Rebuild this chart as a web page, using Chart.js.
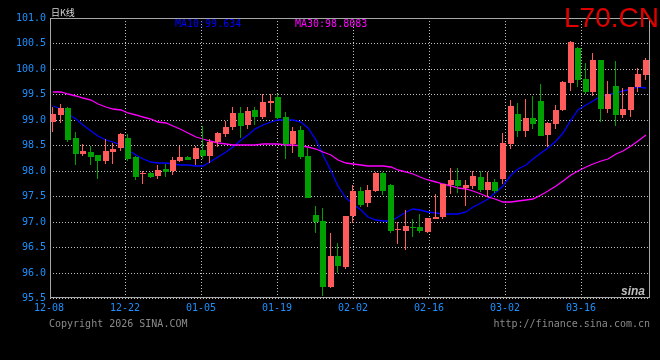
<!DOCTYPE html>
<html>
<head>
<meta charset="utf-8">
<script src="https://cdn.jsdelivr.net/npm/chart.js@4.4.1/dist/chart.umd.min.js"></script>
<style>
  html, body { margin: 0; padding: 0; background: #000; overflow: hidden; }
  canvas { display: block; }
</style>
</head>
<body>
<canvas id="kline" width="660" height="360"></canvas>
<script>
// daily K line, L70.CN, 80 sessions from 12-08
const dateLabels = ["12-08", "12-22", "01-05", "01-19", "02-02", "02-16", "03-02", "03-16"];
const priceTicks = [95.5, 96.0, 96.5, 97.0, 97.5, 98.0, 98.5, 99.0, 99.5, 100.0, 100.5, 101.0];

const opens = [
  98.96, 99.10, 99.24, 98.65, 98.33, 98.37, 98.30, 98.19, 98.37, 98.44,
  98.64, 98.26, 97.93, 97.96, 97.90, 98.03, 98.00, 98.20, 98.27, 98.23,
  98.41, 98.29, 98.57, 98.72, 98.85, 99.14, 98.90, 99.19, 99.06, 99.34,
  99.45, 99.06, 98.53, 98.80, 98.29, 97.13, 97.02, 95.72, 96.33, 96.10,
  97.12, 97.60, 97.37, 97.60, 97.96, 97.72, 96.83, 96.82, 96.90, 96.90,
  96.80, 97.06, 97.10, 97.72, 97.82, 97.66, 97.70, 97.88, 97.62, 97.78,
  97.83, 98.53, 99.12, 98.78, 99.04, 99.36, 98.70, 98.91, 99.19, 99.73,
  100.42, 99.80, 99.55, 100.18, 99.21, 99.66, 99.10, 99.19, 99.64, 99.88
];
const highs = [
  99.26, 99.31, 99.25, 98.76, 98.53, 98.49, 98.31, 98.62, 98.54, 98.74,
  98.72, 98.28, 98.00, 97.97, 98.11, 98.13, 98.27, 98.49, 98.28, 98.49,
  98.87, 98.62, 98.76, 98.98, 99.25, 99.25, 99.25, 99.25, 99.50, 99.50,
  99.50, 99.15, 98.85, 98.88, 98.44, 97.31, 97.27, 96.77, 96.59, 97.11,
  97.72, 97.68, 97.72, 97.97, 97.98, 97.74, 97.00, 97.23, 97.05, 97.15,
  97.07, 97.54, 97.74, 98.06, 98.06, 97.82, 97.99, 97.99, 97.98, 97.84,
  98.75, 99.38, 99.33, 99.41, 99.46, 99.70, 98.96, 99.29, 99.77, 100.55,
  100.44, 100.11, 100.31, 100.18, 99.76, 100.16, 99.62, 99.65, 100.01, 100.21
];
const lows = [
  98.77, 98.93, 98.57, 98.11, 98.28, 98.11, 97.84, 98.14, 98.14, 98.39,
  98.19, 97.82, 97.73, 97.85, 97.84, 97.88, 97.92, 98.17, 98.21, 98.11,
  98.24, 98.15, 98.47, 98.67, 98.80, 98.65, 98.82, 98.90, 99.02, 99.16,
  99.01, 98.23, 98.35, 98.24, 97.46, 96.78, 95.53, 95.70, 95.99, 96.07,
  96.97, 97.28, 97.28, 97.58, 97.53, 96.77, 96.56, 96.44, 96.70, 96.77,
  96.77, 97.05, 97.05, 97.55, 97.57, 97.31, 97.64, 97.59, 97.49, 97.56,
  97.74, 98.42, 98.67, 98.67, 98.82, 98.68, 98.47, 98.82, 99.18, 99.57,
  99.65, 99.50, 99.46, 98.95, 99.13, 98.87, 99.03, 99.06, 99.55, 99.78
];
const closes = [
  99.12, 99.24, 98.60, 98.33, 98.39, 98.26, 98.20, 98.39, 98.43, 98.72,
  98.24, 97.88, 97.94, 97.88, 98.01, 97.97, 98.21, 98.27, 98.22, 98.45,
  98.29, 98.57, 98.75, 98.86, 99.14, 98.88, 99.17, 99.06, 99.35, 99.37,
  99.04, 98.53, 98.78, 98.26, 97.47, 96.99, 95.72, 96.33, 96.12, 97.11,
  97.60, 97.33, 97.62, 97.96, 97.60, 96.82, 96.85, 96.91, 96.88, 96.82,
  97.07, 97.09, 97.74, 97.82, 97.70, 97.72, 97.90, 97.62, 97.78, 97.60,
  98.55, 99.27, 98.78, 99.04, 98.91, 98.68, 98.93, 99.19, 99.75, 100.52,
  99.78, 99.55, 100.18, 99.21, 99.50, 99.10, 99.21, 99.65, 99.90, 100.18
];

const ma10 = [
  99.28, 99.22, 99.12, 99.01, 98.90, 98.79, 98.68, 98.61, 98.56, 98.50,
  98.40, 98.30, 98.23, 98.18, 98.16, 98.15, 98.14, 98.12, 98.11, 98.10,
  98.10, 98.18, 98.27, 98.37, 98.47, 98.61, 98.71, 98.82, 98.89, 98.96,
  99.00, 99.00, 99.00, 98.95, 98.84, 98.60, 98.31, 98.00, 97.70, 97.47,
  97.35, 97.22, 97.09, 97.03, 97.01, 97.02, 97.09, 97.19, 97.24, 97.22,
  97.19, 97.16, 97.15, 97.15, 97.15, 97.19, 97.29, 97.36, 97.44, 97.56,
  97.70, 97.92, 98.03, 98.12, 98.23, 98.34, 98.44, 98.59, 98.74, 99.00,
  99.19, 99.30, 99.37, 99.46, 99.49, 99.52, 99.57, 99.61, 99.64, 99.634
];
const ma30 = [
  99.54, 99.54, 99.51, 99.47, 99.42, 99.38, 99.31, 99.26, 99.22, 99.19,
  99.14, 99.09, 99.05, 99.02, 98.96, 98.93, 98.88, 98.81, 98.74, 98.67,
  98.63, 98.58, 98.54, 98.53, 98.51, 98.50, 98.50, 98.50, 98.52, 98.52,
  98.52, 98.51, 98.50, 98.48, 98.47, 98.42, 98.36, 98.30, 98.22, 98.16,
  98.13, 98.11, 98.09, 98.09, 98.09, 98.08, 98.02, 97.97, 97.93, 97.88,
  97.82, 97.77, 97.73, 97.70, 97.67, 97.64, 97.60, 97.54, 97.49, 97.44,
  97.39, 97.39, 97.41, 97.43, 97.45, 97.52, 97.60, 97.70, 97.80, 97.92,
  98.00, 98.07, 98.13, 98.19, 98.24, 98.33, 98.39, 98.48, 98.58, 98.70
];
const lastMa10 = "99.634";
const lastMa30 = "98.8083";

(() => {
  const UP = "#ff5b5b";
  const DOWN = "#00a000";
  const GRID = "#c4c4c4";
  const AXIS_TEXT = "#1e90ff";
  const MONO = '"DejaVu Sans Mono", "Liberation Mono", monospace';

  // x axis in session units: 7.5px per session, date grid every 76px
  const X_MIN = -0.4, X_MAX = 79.6;
  const SLOT_PX = 7.5, GRID_PX = 76;
  const gridValue = (k) => X_MIN + (k * GRID_PX - 0.75) / SLOT_PX;

  const idx = closes.map((_, i) => i);
  const colorOf = (i) => (closes[i] >= opens[i] ? UP : DOWN);
  const colors = idx.map(colorOf);

  const pagePaint = {
    id: "pagePaint",
    beforeDraw(chart) {
      const ctx = chart.ctx;
      ctx.save();
      ctx.fillStyle = "#000";
      ctx.fillRect(0, 0, chart.width, chart.height);
      ctx.restore();
    },
    afterDraw(chart) {
      const ctx = chart.ctx;
      const a = chart.chartArea;
      ctx.save();
      // frame
      ctx.strokeStyle = "#a8a8a8";
      ctx.lineWidth = 1;
      ctx.strokeRect(a.left + 0.5, a.top + 0.5, a.right - a.left - 1, a.bottom - a.top - 1);

      ctx.textBaseline = "alphabetic";
      ctx.textAlign = "left";
      ctx.fillStyle = "#d8d8d8";
      ctx.font = '9px "Noto Sans CJK SC"';
      ctx.fillText("日K线", 51, 16);

      ctx.font = "10px " + MONO;
      ctx.fillStyle = "#0000ff";
      ctx.fillText("MA10:" + lastMa10, 175, 27);
      ctx.fillStyle = "#ff00ff";
      ctx.fillText("MA30:" + lastMa30, 295, 27);

      ctx.fillStyle = "#e00000";
      ctx.font = '28px "Liberation Sans", Arial, sans-serif';
      ctx.fillText("L70.CN", 564, 27);

      ctx.font = "10px " + MONO;
      ctx.fillStyle = "#8a8a8a";
      ctx.fillText("Copyright 2026 SINA.COM", 49, 327);
      ctx.textAlign = "right";
      ctx.fillText("http://finance.sina.com.cn", 650, 327);

      ctx.fillStyle = "#bdbdbd";
      ctx.font = 'italic bold 12px "Liberation Sans", sans-serif';
      ctx.fillText("sina", 645, 295);
      ctx.restore();
    }
  };

  new Chart(document.getElementById("kline"), {
    type: "bar",
    data: {
      datasets: [
        {
          type: "line",
          label: "MA30",
          data: ma30.map((v, i) => ({ x: i, y: v })),
          borderColor: "#ff00ff",
          borderWidth: 1.3,
          pointRadius: 0,
          tension: 0,
          order: 3
        },
        {
          type: "line",
          label: "MA10",
          data: ma10.map((v, i) => ({ x: i, y: v })),
          borderColor: "#0000ff",
          borderWidth: 1.3,
          pointRadius: 0,
          tension: 0,
          order: 3
        },
        {
          // wick: 2px bar, only its left 1px border is painted
          label: "wick",
          data: idx.map((i) => ({ x: i, y: [lows[i], highs[i]] })),
          backgroundColor: "rgba(0,0,0,0)",
          borderColor: colors,
          borderWidth: { left: 1, right: 0, top: 0, bottom: 0 },
          borderSkipped: false,
          barThickness: 2,
          inflateAmount: 0,
          grouped: false,
          order: 2
        },
        {
          label: "body",
          data: idx.map((i) => ({ x: i, y: [opens[i], closes[i]] })),
          backgroundColor: colors,
          borderWidth: 0,
          barThickness: 6,
          minBarLength: 1,
          inflateAmount: 0,
          grouped: false,
          order: 1
        }
      ]
    },
    options: {
      responsive: false,
      animation: false,
      devicePixelRatio: 1,
      layout: { padding: { top: 18, right: 10, left: 0, bottom: 0 } },
      plugins: { legend: { display: false }, tooltip: { enabled: false } },
      scales: {
        x: {
          type: "linear",
          min: X_MIN,
          max: X_MAX,
          offset: false,
          alignToPixels: true,
          afterFit: (s) => { s.height = 62; },
          afterBuildTicks: (s) => { s.ticks = dateLabels.map((_, k) => ({ value: gridValue(k) })); },
          grid: {
            offset: false,
            drawTicks: false,
            color: (c) => (c.index === 0 ? "rgba(0,0,0,0)" : GRID),
            lineWidth: 1
          },
          border: { display: false, dash: [1, 2] },
          ticks: {
            autoSkip: false,
            maxRotation: 0,
            padding: 4,
            color: AXIS_TEXT,
            font: { family: MONO, size: 10 },
            callback: (v, i) => dateLabels[i]
          }
        },
        y: {
          min: 95.5,
          max: 101.0,
          alignToPixels: true,
          afterFit: (s) => { s.width = 50; },
          afterBuildTicks: (s) => { s.ticks = priceTicks.map((v) => ({ value: v })); },
          grid: { drawTicks: false, color: GRID, lineWidth: 1 },
          border: { display: false, dash: [1, 2] },
          ticks: {
            padding: 4,
            color: AXIS_TEXT,
            font: { family: MONO, size: 10 },
            callback: (v) => Number(v).toFixed(1)
          }
        }
      }
    },
    plugins: [pagePaint]
  });
})();
</script>
</body>
</html>
